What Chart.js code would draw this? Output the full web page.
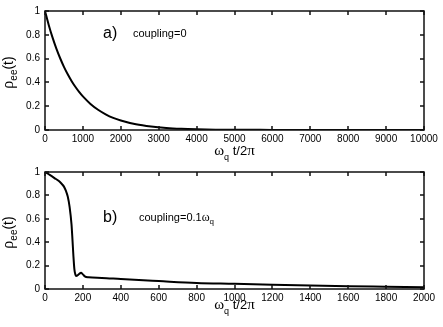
<!DOCTYPE html>
<html>
<head>
<meta charset="utf-8">
<script src="https://cdn.jsdelivr.net/npm/chart.js@4.4.1/dist/chart.umd.min.js"></script>
<style>
  body { margin: 0; background: #fff; }
  #wrap { position: relative; width: 443px; height: 327px; }
  canvas { position: absolute; left: 0; }
</style>
</head>
<body>
<div id="wrap">
  <canvas id="chartA" width="443" height="166" style="top:0"></canvas>
  <canvas id="chartB" width="443" height="167" style="top:160px"></canvas>
</div>
<script>
// panel a) coupling = 0
const timeA = [0, 100, 200, 300, 400, 500, 600, 700, 800, 900, 1000, 1200, 1400, 1600, 1800, 2000,
               2400, 2800, 3200, 3600, 4000, 4500, 5000, 6000, 7000, 8000, 9000, 10000];
const rhoA  = [1, 0.881, 0.776, 0.684, 0.603, 0.531, 0.468, 0.412, 0.363, 0.32, 0.282, 0.219, 0.17, 0.132, 0.102, 0.08,
               0.048, 0.029, 0.017, 0.01, 0.006, 0.003, 0.002, 0.001, 0, 0, 0, 0];

// panel b) coupling = 0.1 omega_q
const timeB = [0, 25, 50, 75, 90, 100, 110, 120, 130, 140, 145, 150, 155, 160, 165, 170, 180, 190, 200, 210,
               230, 300, 400, 600, 800, 1000, 1200, 1400, 1600, 1800, 2000];
const rhoB  = [1, 0.975, 0.948, 0.92, 0.895, 0.875, 0.84, 0.79, 0.7, 0.55, 0.42, 0.28, 0.17, 0.125, 0.112, 0.115, 0.128, 0.138, 0.125, 0.108,
               0.1, 0.095, 0.085, 0.068, 0.052, 0.045, 0.037, 0.03, 0.024, 0.019, 0.014];

const yTicks = [0, 0.2, 0.4, 0.6, 0.8, 1];
const xTicksA = [0, 1000, 2000, 3000, 4000, 5000, 6000, 7000, 8000, 9000, 10000];
const xTicksB = [0, 200, 400, 600, 800, 1000, 1200, 1400, 1600, 1800, 2000];

const FONT = '"Liberation Sans", Arial, Helvetica, sans-serif';
const GREEK = '"Liberation Serif", "Times New Roman", serif';

// draws text made of pieces (for subscripts), centred on x
function drawParts(ctx, parts, x, y) {
  let total = 0;
  parts.forEach(p => {
    ctx.font = p.size + 'px ' + (p.greek ? GREEK : FONT);
    p.w = ctx.measureText(p.t).width;
    total += p.w;
  });
  let cx = x - total / 2;
  parts.forEach(p => {
    ctx.font = p.size + 'px ' + (p.greek ? GREEK : FONT);
    ctx.fillText(p.t, cx, y + (p.dy || 0));
    cx += p.w;
  });
}

function framePlugin(xTicks, tag, note, tagY, noteX, noteY, xTitleY) {
  return {
    id: 'frame',
    afterDraw(chart) {
      const ctx = chart.ctx;
      const a = chart.chartArea;
      const xs = chart.scales.x, ys = chart.scales.y;
      const L = Math.round(a.left), R = Math.round(a.right);
      const T = Math.round(a.top), B = Math.round(a.bottom);
      ctx.save();
      ctx.strokeStyle = '#111';
      ctx.lineWidth = 1.5;
      ctx.strokeRect(L, T, R - L, B - T);
      // inward ticks on all four sides
      ctx.beginPath();
      xTicks.forEach(v => {
        const px = Math.round(xs.getPixelForValue(v));
        ctx.moveTo(px, B); ctx.lineTo(px, B - 4);
        ctx.moveTo(px, T); ctx.lineTo(px, T + 4);
      });
      yTicks.forEach(v => {
        const py = Math.round(ys.getPixelForValue(v));
        ctx.moveTo(L, py); ctx.lineTo(L + 4, py);
        ctx.moveTo(R, py); ctx.lineTo(R - 4, py);
      });
      ctx.stroke();

      ctx.fillStyle = '#000';
      ctx.textBaseline = 'alphabetic';
      ctx.textAlign = 'left';
      ctx.font = '16px ' + FONT;
      ctx.fillText(tag, 103, tagY);
      ctx.font = '11px ' + FONT;
      ctx.fillText(note[0], noteX, noteY);
      if (note[1]) {
        const w = ctx.measureText(note[0]).width;
        ctx.font = '12px ' + GREEK;
        ctx.fillText(note[1], noteX + w, noteY);
        const w2 = ctx.measureText(note[1]).width;
        ctx.font = '8px ' + FONT;
        ctx.fillText(note[2], noteX + w + w2, noteY + 3);
      }

      // x title
      drawParts(ctx, [
        { t: 'ω', size: 15, greek: true },
        { t: 'q', size: 9, dy: 5 },
        { t: ' t/2', size: 13 },
        { t: 'π', size: 15, greek: true }
      ], (L + R) / 2, xTitleY);

      // y title, rotated
      ctx.translate(13, (T + B) / 2 + 2);
      ctx.rotate(-Math.PI / 2);
      drawParts(ctx, [
        { t: 'ρ', size: 16, greek: true },
        { t: 'ee', size: 10, dy: 4 },
        { t: '(t)', size: 14 }
      ], 0, 0);
      ctx.restore();
    }
  };
}

function makeChart(id, times, values, xMax, xStep, padTop, xAxisH, plugin) {
  return new Chart(document.getElementById(id), {
    type: 'line',
    data: {
      datasets: [{
        data: times.map((t, i) => ({ x: t, y: values[i] })),
        borderColor: '#000',
        borderWidth: 2,
        pointRadius: 0,
        fill: false,
        cubicInterpolationMode: 'monotone'
      }]
    },
    options: {
      responsive: false,
      animation: false,
      layout: { padding: { left: 0, right: 19, top: padTop, bottom: 0 } },
      plugins: { legend: { display: false }, tooltip: { enabled: false } },
      scales: {
        x: {
          type: 'linear', min: 0, max: xMax,
          grid: { display: false, drawTicks: false },
          border: { display: false },
          ticks: {
            stepSize: xStep, autoSkip: false, maxRotation: 0, padding: 3,
            color: '#000', font: { family: FONT, size: 10 },
            callback: v => String(v)
          },
          afterFit(s) { s.height = xAxisH; }
        },
        y: {
          min: 0, max: 1,
          grid: { display: false, drawTicks: false },
          border: { display: false },
          afterBuildTicks(s) { s.ticks = yTicks.map(v => ({ value: v })); },
          ticks: {
            padding: 5, color: '#000', font: { family: FONT, size: 10 },
            callback: v => String(v)
          },
          afterFit(s) { s.width = 45; }
        }
      }
    },
    plugins: [plugin]
  });
}

makeChart('chartA', timeA, rhoA, 10000, 1000, 10, 36,
  framePlugin(xTicksA, 'a)', ['coupling=0'], 38, 133, 37, 155));
makeChart('chartB', timeB, rhoB, 2000, 200, 12, 38,
  framePlugin(xTicksB, 'b)', ['coupling=0.1', 'ω', 'q'], 62, 139, 61, 149));
</script>
</body>
</html>
